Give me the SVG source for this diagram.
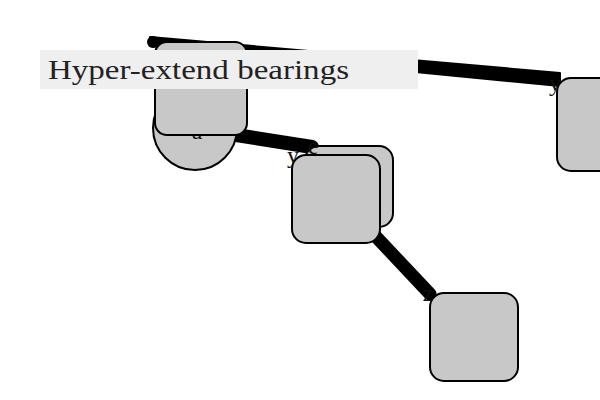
<svg xmlns="http://www.w3.org/2000/svg" width="600" height="400" viewBox="0 0 600 400">
<style>
.node{fill:#c8c8c8;stroke:#000;stroke-width:2}
.lbl{font-family:"Liberation Serif","DejaVu Serif",serif;font-size:24px;fill:#111;text-anchor:middle}
.edge{stroke:#000;stroke-linecap:round;fill:none}
</style>
<rect width="600" height="400" fill="#fff"/>
<g id="connectors">
<polygon points="150,37 560,73 560,86 150,46" fill="#000" stroke="#000" stroke-width="2" stroke-linejoin="round"/>
<circle cx="153" cy="42" r="6" fill="#000"/>
<line class="edge" x1="230" y1="134" x2="312" y2="147" stroke-width="14"/>
<line class="edge" x1="365" y1="225" x2="430" y2="294" stroke-width="13"/>
</g>
<g id="node-a">
<circle class="node" cx="195" cy="128" r="42"/>
<text class="lbl" x="197" y="139">a</text>
<rect class="node" x="155" y="42" width="92" height="93" rx="12"/>
</g>
<g id="node-c">
<rect class="node" x="305" y="146" width="88" height="81" rx="14"/>
<rect class="node" x="292" y="155" width="88" height="88" rx="14"/>
<text class="lbl" x="313" y="154">e</text>
<text class="lbl" x="293" y="163">y</text>
</g>
<g id="node-d">
<rect class="node" x="430" y="293" width="88" height="88" rx="14"/>
<text class="lbl" x="428" y="301">z</text>
</g>
<g id="node-e">
<rect class="node" x="557" y="78" width="88" height="93" rx="14"/>
<text class="lbl" x="555" y="91">y</text>
</g>
<g id="title">
<rect x="40" y="50" width="378" height="39" fill="#efefef"/>
<text x="48" y="79" font-family="Liberation Serif, DejaVu Serif, serif" font-size="28" textLength="301" lengthAdjust="spacingAndGlyphs" fill="#222">Hyper-extend bearings</text>
</g>
</svg>
